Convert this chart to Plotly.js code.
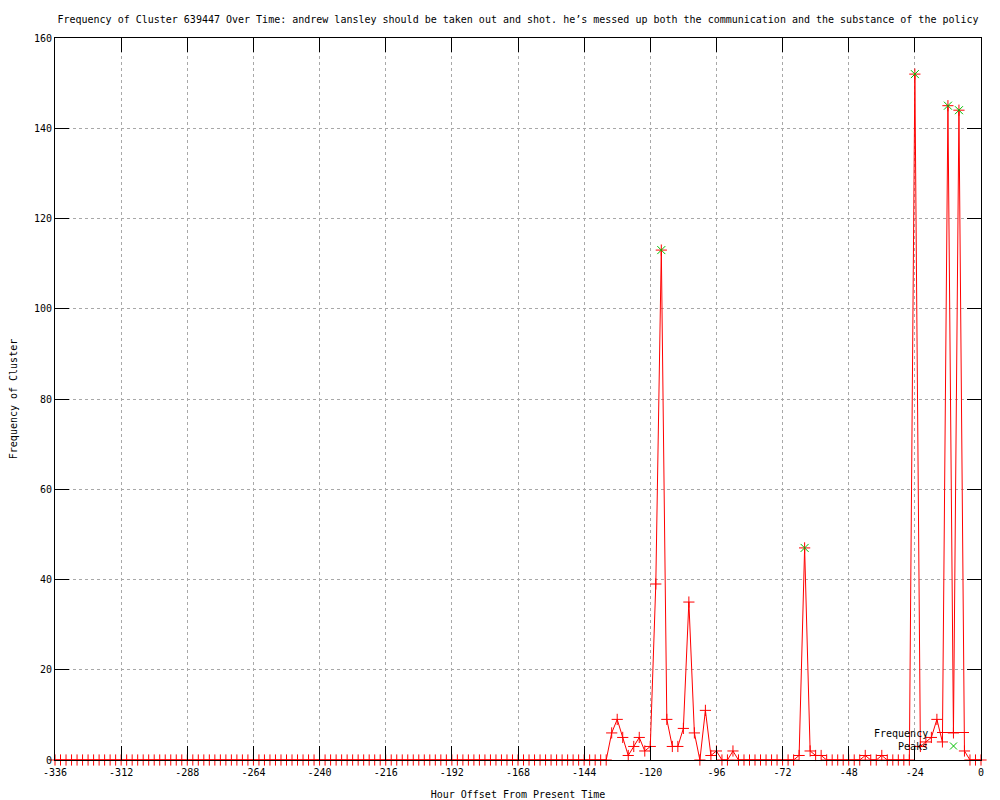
<!DOCTYPE html>
<html>
<head>
<meta charset="utf-8">
<script src="https://cdn.plot.ly/plotly-3.0.1.min.js"></script>
<style>html,body{margin:0;padding:0;background:#fff;}#chart{width:1000px;height:800px;}</style>
</head>
<body>
<div id="chart"></div>
<script>
// Hour offsets (every 2 hours)
const hours = [
  -336,-334,-332,-330,-328,-326,-324,-322,-320,-318,-316,-314,
  -312,-310,-308,-306,-304,-302,-300,-298,-296,-294,-292,-290,
  -288,-286,-284,-282,-280,-278,-276,-274,-272,-270,-268,-266,
  -264,-262,-260,-258,-256,-254,-252,-250,-248,-246,-244,-242,
  -240,-238,-236,-234,-232,-230,-228,-226,-224,-222,-220,-218,
  -216,-214,-212,-210,-208,-206,-204,-202,-200,-198,-196,-194,
  -192,-190,-188,-186,-184,-182,-180,-178,-176,-174,-172,-170,
  -168,-166,-164,-162,-160,-158,-156,-154,-152,-150,-148,-146,
  -144,-142,-140,-138,-136,-134,-132,-130,-128,-126,-124,-122,
  -120,-118,-116,-114,-112,-110,-108,-106,-104,-102,-100,-98,
  -96,-94,-92,-90,-88,-86,-84,-82,-80,-78,-76,-74,
  -72,-70,-68,-66,-64,-62,-60,-58,-56,-54,-52,-50,
  -48,-46,-44,-42,-40,-38,-36,-34,-32,-30,-28,-26,
  -24,-22,-20,-18,-16,-14,-12,-10,-8,-6,-4,-2,
  0
];
// Frequency of cluster at each hour offset
const frequency = [
  0,0,0,0,0,0,0,0,0,0,0,0,
  0,0,0,0,0,0,0,0,0,0,0,0,
  0,0,0,0,0,0,0,0,0,0,0,0,
  0,0,0,0,0,0,0,0,0,0,0,0,
  0,0,0,0,0,0,0,0,0,0,0,0,
  0,0,0,0,0,0,0,0,0,0,0,0,
  0,0,0,0,0,0,0,0,0,0,0,0,
  0,0,0,0,0,0,0,0,0,0,0,0,
  0,0,0,0,0,6,9,5,1,3,5,2,
  3,39,113,9,3,3,7,35,6,0,11,1,
  2,0,0,2,0,0,0,0,0,0,0,0,
  0,0,0,1,47,2,1,1,0,0,0,0,
  0,0,0,1,0,0,1,0,0,0,0,0,
  152,3,4,5,9,4,145,6,144,2,0,0,
  0
];
// Detected peaks
const peakHours = [-116, -64, -24, -12, -8];
const peakValues = [113, 47, 152, 145, 144];

// Axis ticks
const xTickVals = [-336,-312,-288,-264,-240,-216,-192,-168,-144,-120,-96,-72,-48,-24,0];
const xTickText = ["-336","-312","-288","-264","-240","-216","-192","-168","-144","-120","-96","-72","-48","-24","0"];
const yTickVals = [0,20,40,60,80,100,120,140,160];
const yTickText = ["0","20","40","60","80","100","120","140","160"];

const titleText = "Frequency of Cluster 639447 Over Time: andrew lansley should be taken out and shot. he\u2019s messed up both the communication and the substance of the policy";
const legendNames = ["Frequency", "Peaks"];

const FONT = "DejaVu Sans Mono, Liberation Mono, monospace";
const RED = "#ff0000";
const GREEN = "#00c000";

const traces = [
  {
    x: hours, y: frequency, name: legendNames[0], type: "scatter", mode: "lines+markers",
    line: {color: RED, width: 1},
    marker: {symbol: "cross-thin-open", size: 8, color: RED, line: {color: RED, width: 1}},
    cliponaxis: false
  },
  {
    x: peakHours, y: peakValues, name: legendNames[1], type: "scatter", mode: "markers",
    marker: {symbol: "x-thin-open", size: 8, color: GREEN, line: {color: GREEN, width: 1}},
    cliponaxis: false
  }
];

// plot area in px: left 55, right 981, top 38, bottom 760
const L = 55, R = 981, T = 38, B = 760;
const px = v => (v - L) / (R - L);
const py = v => (B - v) / (B - T);

const axisCommon = {
  showline: true, linecolor: "#000", linewidth: 1, mirror: "ticks",
  ticks: "inside", ticklen: 14, tickwidth: 1, tickcolor: "#000",
  showgrid: true, gridcolor: "#a8a8a8", griddash: "dot", gridwidth: 1,
  zeroline: false, tickfont: {family: FONT, size: 10, color: "#000"},
  automargin: false, fixedrange: true
};

const layout = {
  width: 1000, height: 800,
  margin: {l: L, r: 1000 - R, t: T, b: 800 - B, pad: 0},
  paper_bgcolor: "#fff", plot_bgcolor: "#fff",
  font: {family: FONT, size: 10, color: "#000"},
  showlegend: false,
  title: {text: titleText, font: {family: FONT, size: 10, color: "#000"},
          xref: "paper", x: 0.5, xanchor: "center", yref: "container", y: 1 - 19/800, yanchor: "middle"},
  xaxis: Object.assign({}, axisCommon, {
    range: [-336, 0], tickmode: "array", tickvals: xTickVals, ticktext: xTickText,
    ticklabelstandoff: 3,
    title: {text: "Hour Offset From Present Time", font: {family: FONT, size: 10, color: "#000"}, standoff: 13}
  }),
  yaxis: Object.assign({}, axisCommon, {
    range: [0, 160], tickmode: "array", tickvals: yTickVals, ticktext: yTickText,
    title: {text: "Frequency of Cluster", font: {family: FONT, size: 10, color: "#000"}, standoff: 14}
  }),
  annotations: [
    {xref: "paper", yref: "paper", x: px(930), y: py(733), xanchor: "right", yanchor: "middle",
     text: legendNames[0], showarrow: false, font: {family: FONT, size: 10, color: "#000"}},
    {xref: "paper", yref: "paper", x: px(930), y: py(746), xanchor: "right", yanchor: "middle",
     text: legendNames[1], showarrow: false, font: {family: FONT, size: 10, color: "#000"}}
  ],
  shapes: [
    {type: "line", xref: "paper", yref: "paper", x0: px(937), x1: px(969), y0: py(732.5), y1: py(732.5),
     line: {color: RED, width: 1}},
    {type: "line", xref: "paper", yref: "paper", x0: px(950), x1: px(957), y0: py(742.5), y1: py(749.5),
     line: {color: GREEN, width: 1}},
    {type: "line", xref: "paper", yref: "paper", x0: px(950), x1: px(957), y0: py(749.5), y1: py(742.5),
     line: {color: GREEN, width: 1}}
  ]
};

Plotly.newPlot("chart", traces, layout, {staticPlot: true, displayModeBar: false});
</script>
</body>
</html>
